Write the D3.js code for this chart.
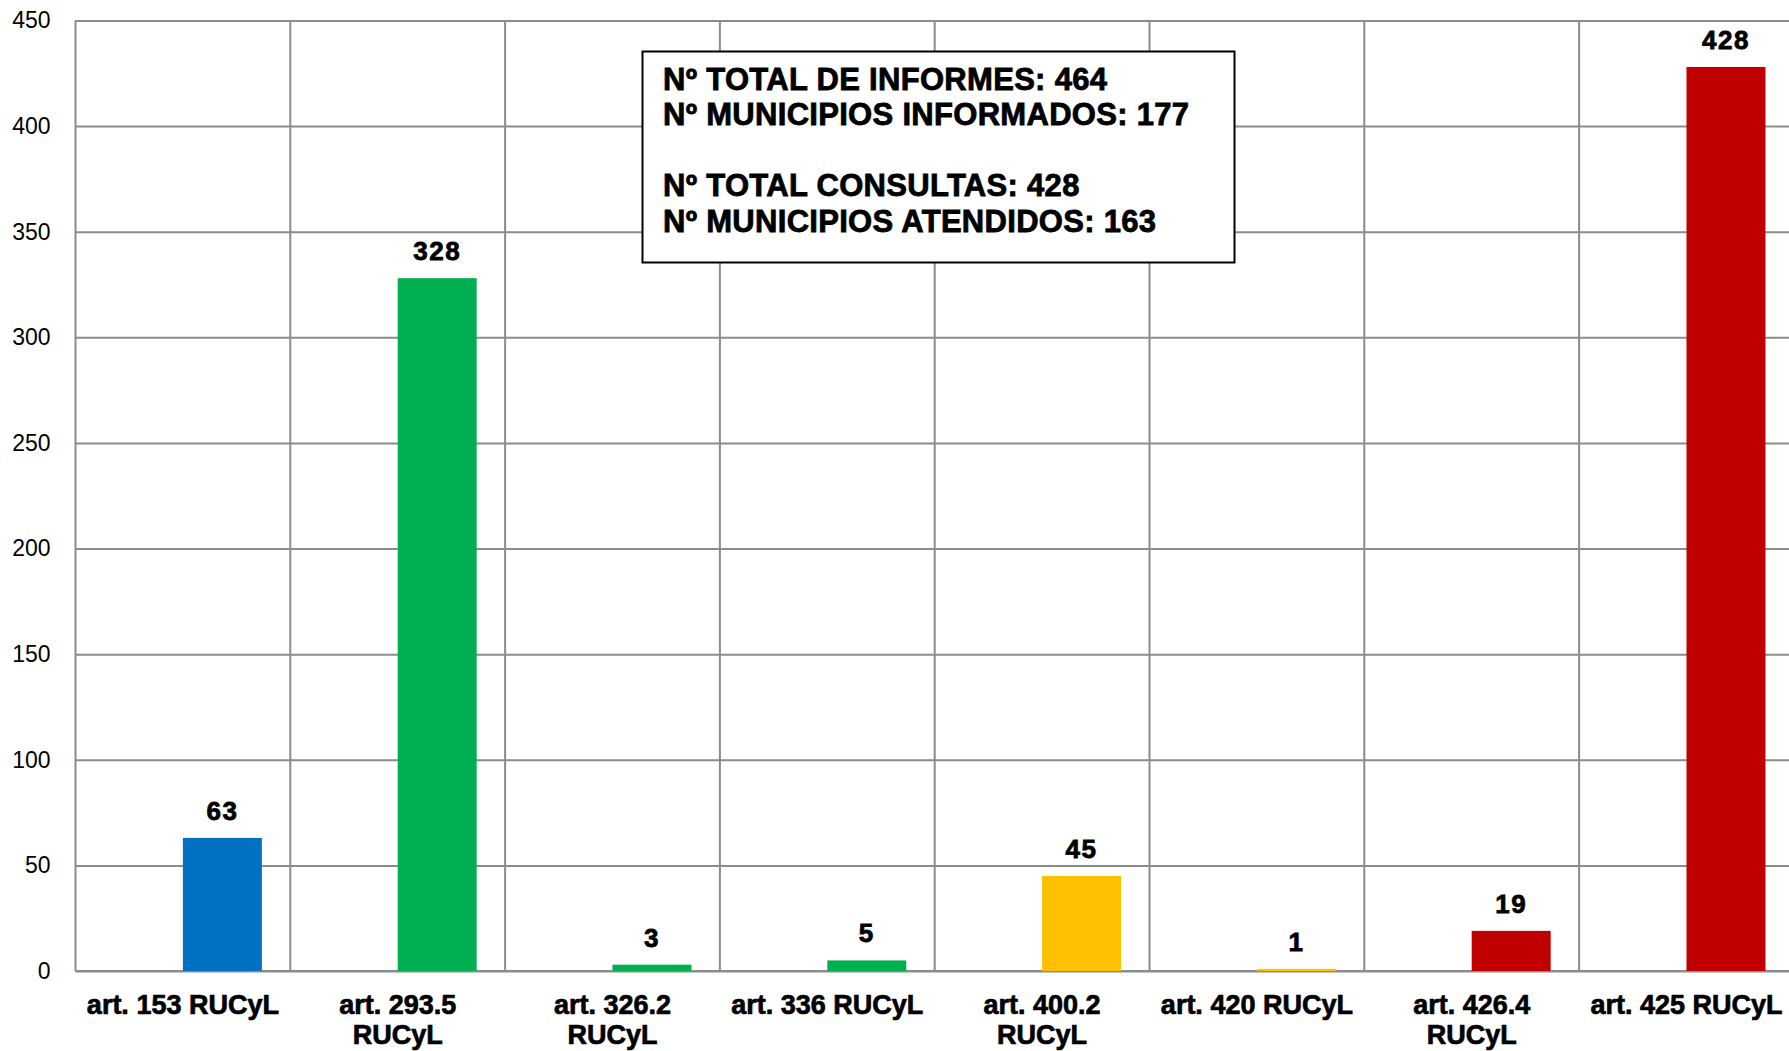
<!DOCTYPE html>
<html>
<head>
<meta charset="utf-8">
<script src="https://cdn.jsdelivr.net/npm/d3@7"></script>
<style>
  html, body { margin: 0; padding: 0; background: #fff; }
  svg { display: block; }
</style>
</head>
<body>
<svg id="chart" width="1789" height="1051"></svg>
<script>
const categories = [
  "art. 153 RUCyL",
  "art. 293.5\nRUCyL",
  "art. 326.2\nRUCyL",
  "art. 336 RUCyL",
  "art. 400.2\nRUCyL",
  "art. 420 RUCyL",
  "art. 426.4\nRUCyL",
  "art. 425 RUCyL"
];
const values = [63, 328, 3, 5, 45, 1, 19, 428];
const barColors = ["#0070C0", "#00B050", "#00B050", "#00B050", "#FFC000", "#FFC000", "#C00000", "#C00000"];
const yTicks = [0, 50, 100, 150, 200, 250, 300, 350, 400, 450];
const seriesSlots = ["vacía", "valor"];
const infoLines = [
  "Nº TOTAL DE INFORMES: 464",
  "Nº MUNICIPIOS INFORMADOS: 177",
  "",
  "Nº TOTAL CONSULTAS: 428",
  "Nº MUNICIPIOS ATENDIDOS: 163"
];

const svg = d3.select("#chart");
const plotLeft = 75.5, plotTop = 20.5, plotBottom = 971, plotRight = 75.5 + 8 * 214.8;
const gridColor = "#8c8c8c";
const boldFont = "'Liberation Sans', Arial, sans-serif";

const x = d3.scaleBand().domain(categories).range([plotLeft, plotRight]).paddingInner(0).paddingOuter(0);
const xs = d3.scaleBand().domain(seriesSlots).range([0, x.bandwidth()]).paddingInner(0).paddingOuter(0.36);
const y = d3.scaleLinear().domain([0, 450]).range([plotBottom, plotTop]);

// horizontal gridlines + y axis labels
const yAxis = d3.axisLeft(y).tickValues(yTicks).tickSize(-(plotRight - plotLeft)).tickPadding(25).tickFormat(d3.format("d"));
const gy = svg.append("g").attr("transform", `translate(${plotLeft},0)`).call(yAxis);
gy.select(".domain").remove();
gy.selectAll(".tick line").attr("stroke", gridColor).attr("stroke-width", 2);
gy.selectAll(".tick text")
  .attr("fill", "#000")
  .style("font-family", "'Liberation Sans', Arial, sans-serif")
  .style("font-size", "23px");

// vertical gridlines at category boundaries
svg.append("g").selectAll("line")
  .data(categories)
  .join("line")
  .attr("x1", d => x(d)).attr("x2", d => x(d))
  .attr("y1", plotTop).attr("y2", plotBottom)
  .attr("stroke", gridColor).attr("stroke-width", 2);

// bottom axis line
svg.append("line")
  .attr("x1", plotLeft).attr("x2", plotRight)
  .attr("y1", y(0)).attr("y2", y(0))
  .attr("stroke", gridColor).attr("stroke-width", 2);

// bars
svg.append("g").selectAll("rect")
  .data(values)
  .join("rect")
  .attr("x", (d, i) => x(categories[i]) + xs("valor"))
  .attr("width", xs.bandwidth())
  .attr("y", d => y(d))
  .attr("height", d => y(0) - y(d))
  .attr("fill", (d, i) => barColors[i]);

// value labels
svg.append("g").selectAll("text")
  .data(values)
  .join("text")
  .attr("x", (d, i) => x(categories[i]) + xs("valor") + xs.bandwidth() / 2)
  .attr("y", d => y(d) - 18)
  .attr("text-anchor", "middle")
  .style("font-family", boldFont)
  .style("font-weight", "bold")
  .style("font-size", "26px")
  .style("letter-spacing", "1.5px")
  .attr("fill", "#000")
  .attr("stroke", "#000").attr("stroke-width", 0.8)
  .text(d => d);

// category labels
const catG = svg.append("g").selectAll("text")
  .data(categories)
  .join("text")
  .attr("x", d => x(d) + x.bandwidth() / 2)
  .attr("y", 1014)
  .attr("text-anchor", "middle")
  .style("font-family", boldFont)
  .style("font-weight", "bold")
  .style("font-size", "27px")
  .attr("fill", "#000")
  .attr("stroke", "#000").attr("stroke-width", 0.7);
catG.each(function(d) {
  const t = d3.select(this);
  d.split("\n").forEach((line, i) => {
    t.append("tspan")
      .attr("x", x(d) + x.bandwidth() / 2)
      .attr("dy", i === 0 ? 0 : 30)
      .text(line);
  });
});

// info box
const box = svg.append("g");
box.append("rect")
  .attr("x", 642.5).attr("y", 51.5)
  .attr("width", 592).attr("height", 211)
  .attr("fill", "#fff").attr("stroke", "#000").attr("stroke-width", 2);
box.selectAll("text")
  .data(infoLines)
  .join("text")
  .attr("x", 663)
  .attr("y", (d, i) => 90 + i * 35.4)
  .style("font-family", boldFont)
  .style("font-weight", "bold")
  .style("font-size", "31px")
  .style("letter-spacing", "0.3px")
  .attr("fill", "#000")
  .attr("stroke", "#000").attr("stroke-width", 0.8)
  .text(d => d);
</script>
</body>
</html>
